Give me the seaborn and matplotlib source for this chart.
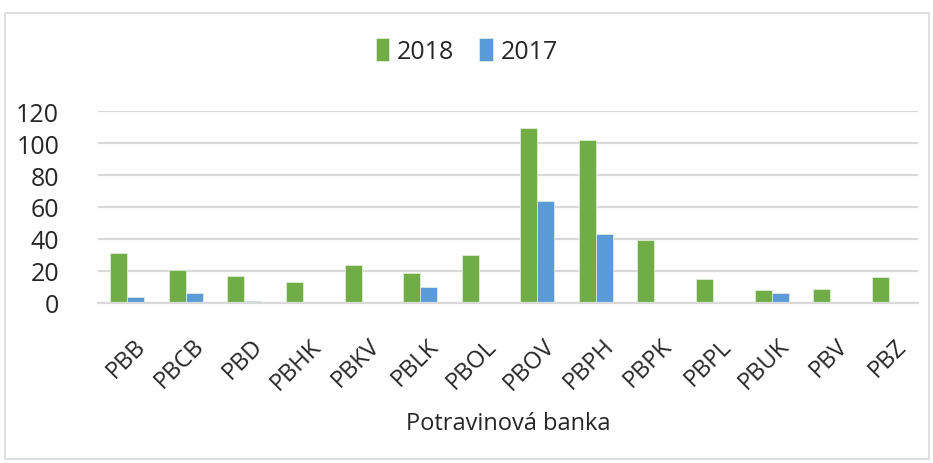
import matplotlib
matplotlib.use("Agg")
import matplotlib.pyplot as plt
import matplotlib.transforms as mtransforms
import seaborn as sns
import pandas as pd
from matplotlib.patches import Rectangle

categories = ["PBB", "PBCB", "PBD", "PBHK", "PBKV", "PBLK", "PBOL", "PBOV",
              "PBPH", "PBPK", "PBPL", "PBUK", "PBV", "PBZ"]
values_2018 = [31.5, 20.5, 17, 13, 24, 19, 30, 109.5, 102, 39.5, 15, 8, 9, 16]
values_2017 = [4, 6, 1, 0, 0, 10, 0, 64, 43, 0, 0, 6, 0, 0]
series_names = ["2018", "2017"]
y_ticks = [0, 20, 40, 60, 80, 100, 120]
x_label = "Potravinová banka"

df = pd.DataFrame({
    "banka": categories * 2,
    "rok": [series_names[0]] * len(categories) + [series_names[1]] * len(categories),
    "hodnota": values_2018 + values_2017,
})

sns.set_theme(style="white")
plt.rcParams["font.family"] = ["Open Sans", "DejaVu Sans"]

fig = plt.figure(figsize=(9.33, 4.64), dpi=100)
ax = fig.add_axes([98 / 933, 1 - 304 / 464, 820 / 933, 192 / 464])

sns.barplot(data=df, x="banka", y="hodnota", hue="rok", hue_order=series_names,
            palette=["#70AD47", "#5B9BD5"], saturation=1, width=0.58, ax=ax,
            edgecolor="#E8F0E0", linewidth=0.5, legend=True)

ax.set_ylim(0, 120)
ax.set_yticks(y_ticks)
ax.set_yticklabels([str(v) for v in y_ticks], fontsize=18)
ax.yaxis.grid(True, color="#D9D9D9", linewidth=1.6)
ax.set_axisbelow(True)
for s in ["top", "right", "left"]:
    ax.spines[s].set_visible(False)
ax.spines["bottom"].set_color("#D9D9D9")
ax.spines["bottom"].set_linewidth(1.6)
ax.tick_params(axis="y", length=0, pad=28)
ax.tick_params(axis="x", length=0, pad=22)
ax.set_xlim(-0.5, len(categories) - 0.5)
ax.set_xticks(range(len(categories)))
ax.set_xticklabels(categories, rotation=45, ha="right", rotation_mode="anchor", fontsize=17)
shift = mtransforms.ScaledTranslation(6 / 100, 0, fig.dpi_scale_trans)
for lbl in ax.get_xticklabels():
    lbl.set_transform(lbl.get_transform() + shift)
ax.set_ylabel("")
ax.set_xlabel(x_label, fontsize=17)
ax.xaxis.set_label_coords(0.5, -0.56)

leg = ax.legend(loc="center", bbox_to_anchor=(0.5, 1 - 52 / 464), bbox_transform=fig.transFigure,
                ncol=2, frameon=False, fontsize=18, handlelength=0.55, handleheight=1.0,
                handletextpad=0.3, columnspacing=1.0)

fig.patches.append(Rectangle((5 / 933, 4 / 464), 924 / 933, 446 / 464, transform=fig.transFigure,
                             fill=False, edgecolor="#D9D9D9", linewidth=1.2))

fig.savefig("out.png", dpi=100, facecolor="white")
